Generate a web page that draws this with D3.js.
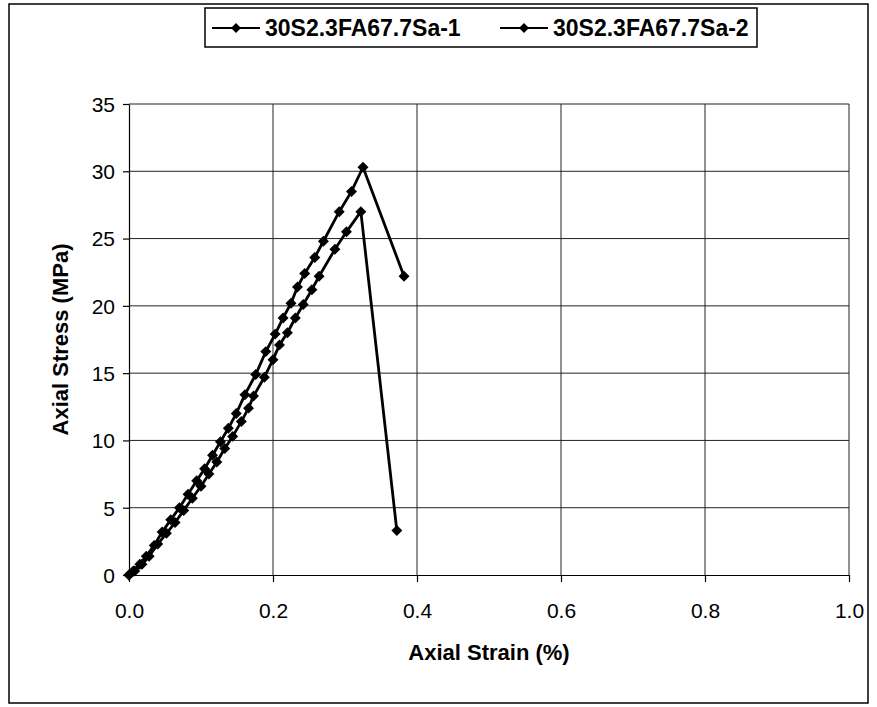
<!DOCTYPE html>
<html>
<head>
<meta charset="utf-8">
<script src="https://cdn.jsdelivr.net/npm/d3@7"></script>
<style>
  html, body { margin: 0; padding: 0; background: #fff; }
  svg { display: block; font-family: "Liberation Sans", Arial, sans-serif; }
</style>
</head>
<body>
<svg id="chart" width="877" height="707"></svg>
<script>
// Axial strain (%) and axial stress (MPa) for the two specimens
const seriesNames = ["30S2.3FA67.7Sa-1", "30S2.3FA67.7Sa-2"];

const strain1 = [0.000, 0.006, 0.015, 0.024, 0.035, 0.046, 0.058, 0.070, 0.082, 0.094,
                 0.105, 0.116, 0.127, 0.138, 0.149, 0.161, 0.176, 0.190, 0.203, 0.214,
                 0.225, 0.234, 0.244, 0.258, 0.270, 0.292, 0.309, 0.325, 0.382];
const stress1 = [0.0, 0.3, 0.8, 1.4, 2.2, 3.2, 4.1, 5.0, 6.0, 7.0,
                 7.9, 8.9, 9.9, 10.9, 12.0, 13.4, 14.9, 16.6, 17.9, 19.1,
                 20.2, 21.4, 22.4, 23.6, 24.8, 27.0, 28.5, 30.3, 22.2];

const strain2 = [0.000, 0.008, 0.018, 0.028, 0.040, 0.052, 0.064, 0.076, 0.088, 0.100,
                 0.111, 0.122, 0.133, 0.144, 0.156, 0.166, 0.173, 0.188, 0.200, 0.209,
                 0.220, 0.231, 0.242, 0.254, 0.264, 0.286, 0.302, 0.322, 0.372];
const stress2 = [0.0, 0.3, 0.8, 1.4, 2.3, 3.1, 3.9, 4.8, 5.7, 6.6,
                 7.5, 8.4, 9.4, 10.3, 11.4, 12.4, 13.3, 14.7, 16.0, 17.1,
                 18.0, 19.1, 20.1, 21.2, 22.2, 24.2, 25.5, 27.0, 3.3];

const xTicks = [0.0, 0.2, 0.4, 0.6, 0.8, 1.0];
const yTicks = [0, 5, 10, 15, 20, 25, 30, 35];

const xTitle = "Axial Strain (%)";
const yTitle = "Axial Stress (MPa)";

const svg = d3.select("#chart");

// outer frame
svg.append("rect")
  .attr("x", 9).attr("y", 4).attr("width", 859).attr("height", 699)
  .attr("fill", "none").attr("stroke", "#000").attr("stroke-width", 1.5);

const plot = { left: 129, right: 849, top: 104, bottom: 575 };

const x = d3.scaleLinear().domain([0, 1]).range([plot.left, plot.right]);
const y = d3.scaleLinear().domain([0, 35]).range([plot.bottom, plot.top]);

// grid
const grid = svg.append("g").attr("stroke", "#222").attr("stroke-width", 1);
grid.selectAll("line.h").data(yTicks.filter(d => d > 0)).join("line")
  .attr("x1", plot.left).attr("x2", plot.right)
  .attr("y1", d => y(d)).attr("y2", d => y(d));
grid.selectAll("line.v").data(xTicks.filter(d => d > 0)).join("line")
  .attr("y1", plot.top).attr("y2", plot.bottom)
  .attr("x1", d => x(d)).attr("x2", d => x(d));

// axes
const xAxis = d3.axisBottom(x).tickValues(xTicks).tickFormat(d3.format(".1f"))
  .tickSizeInner(7).tickSizeOuter(0).tickPadding(21);
const yAxis = d3.axisLeft(y).tickValues(yTicks).tickFormat(d3.format("d"))
  .tickSizeInner(6).tickSizeOuter(0).tickPadding(8);

const gx = svg.append("g").attr("transform", `translate(0,${plot.bottom})`).call(xAxis);
const gy = svg.append("g").attr("transform", `translate(${plot.left},0)`).call(yAxis);
[gx, gy].forEach(g => {
  g.select(".domain").attr("stroke", "#000").attr("stroke-width", 1.2);
  g.selectAll(".tick line").attr("stroke", "#000").attr("stroke-width", 1.2);
  g.selectAll(".tick text").attr("fill", "#000")
    .style("font-size", "21px").style("font-family", "'Liberation Sans', Arial, sans-serif");
});
gy.selectAll(".tick text").attr("dy", "0.35em");

// axis titles
svg.append("text")
  .attr("x", (plot.left + plot.right) / 2).attr("y", 660)
  .attr("text-anchor", "middle")
  .style("font-size", "22px").style("font-weight", "bold")
  .text(xTitle);
svg.append("text")
  .attr("transform", `translate(68,${(plot.top + plot.bottom) / 2}) rotate(-90)`)
  .attr("text-anchor", "middle")
  .style("font-size", "22px").style("font-weight", "bold")
  .text(yTitle);

// square diamond marker
const squareDiamond = {
  draw(ctx, size) {
    const r = Math.sqrt(size / 2);
    ctx.moveTo(0, -r); ctx.lineTo(r, 0); ctx.lineTo(0, r); ctx.lineTo(-r, 0); ctx.closePath();
  }
};

// series
const data = [
  strain1.map((s, i) => ({ x: s, y: stress1[i] })),
  strain2.map((s, i) => ({ x: s, y: stress2[i] }))
];
const line = d3.line().x(d => x(d.x)).y(d => y(d.y));
const marker = d3.symbol().type(squareDiamond).size(60);

data.forEach(pts => {
  svg.append("path").datum(pts)
    .attr("d", line).attr("fill", "none")
    .attr("stroke", "#000").attr("stroke-width", 2.8).attr("stroke-linejoin", "round");
  svg.append("g").selectAll("path").data(pts).join("path")
    .attr("transform", d => `translate(${x(d.x)},${y(d.y)})`)
    .attr("d", marker).attr("fill", "#000");
});

// legend
const legend = svg.append("g");
legend.append("rect")
  .attr("x", 205).attr("y", 8).attr("width", 552).attr("height", 39)
  .attr("fill", "#fff").attr("stroke", "#000").attr("stroke-width", 1.5);
const entryX = [212, 500];
seriesNames.forEach((name, i) => {
  const g = legend.append("g").attr("transform", `translate(${entryX[i]},28)`);
  g.append("line").attr("x1", 0).attr("x2", 48).attr("y1", 0).attr("y2", 0)
    .attr("stroke", "#000").attr("stroke-width", 2);
  g.append("path").attr("transform", "translate(24,0)")
    .attr("d", d3.symbol().type(squareDiamond).size(50)).attr("fill", "#000");
  g.append("text").attr("x", 53).attr("y", 0).attr("dy", "0.36em")
    .style("font-size", "23px").style("font-weight", "bold")
    .text(name);
});
</script>
</body>
</html>
